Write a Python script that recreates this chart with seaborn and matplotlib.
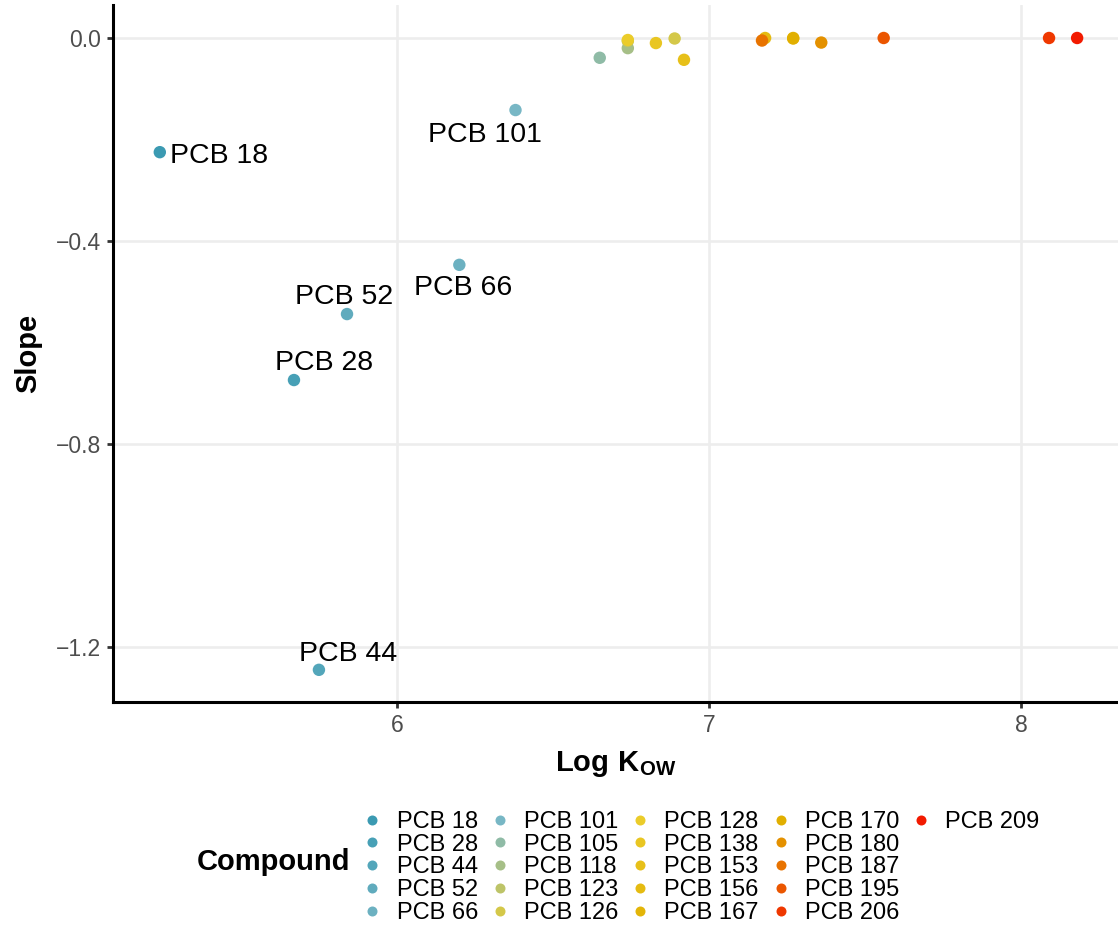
import numpy as np
import pandas as pd
import seaborn as sns
import matplotlib
matplotlib.use("Agg")
import matplotlib.pyplot as plt
from matplotlib.lines import Line2D
from matplotlib.colors import to_rgb, to_hex

# ---------------- data ----------------
compounds = ["PCB 18", "PCB 28", "PCB 44", "PCB 52", "PCB 66",
             "PCB 101", "PCB 105", "PCB 118", "PCB 123", "PCB 126",
             "PCB 128", "PCB 138", "PCB 153", "PCB 156", "PCB 167",
             "PCB 170", "PCB 180", "PCB 187", "PCB 195", "PCB 206", "PCB 209"]
log_kow = [5.24, 5.67, 5.75, 5.84, 6.20,
           6.38, 6.65, 6.74, 6.74, 6.89,
           6.74, 6.83, 6.92, 7.18, 7.27,
           7.27, 7.36, 7.17, 7.56, 8.09, 8.18]
slope = [-0.225, -0.674, -1.245, -0.544, -0.447,
         -0.142, -0.039, -0.020, -0.006, -0.001,
         -0.004, -0.010, -0.043, 0.000, 0.000,
         -0.001, -0.009, -0.005, 0.000, 0.000, 0.000]
labelled = ["PCB 18", "PCB 28", "PCB 44", "PCB 52", "PCB 66", "PCB 101"]
# label offsets (points) and alignment
label_style = {
    "PCB 18": (7, -8, "left"),
    "PCB 101": (-22, -23, "center"),
    "PCB 66": (3, -22, "center"),
    "PCB 52": (-2, 7, "center"),
    "PCB 28": (22, 7, "center"),
    "PCB 44": (21, 6.5, "center"),
}
x_ticks = [6, 7, 8]
y_ticks = [0.0, -0.4, -0.8, -1.2]
y_ticklabels = ["0.0", "\u22120.4", "\u22120.8", "\u22121.2"]

# Zissou1 continuous palette
base_cols = ["#3B9AB2", "#78B7C5", "#EBCC2A", "#E1AF00", "#F21A00"]
n = len(compounds)
base_rgb = np.array([to_rgb(c) for c in base_cols])
pos = np.linspace(0, 1, len(base_cols))
t = np.linspace(0, 1, n)
palette = [to_hex([np.interp(ti, pos, base_rgb[:, k]) for k in range(3)]) for ti in t]

df = pd.DataFrame({"Compound": compounds, "LogKow": log_kow, "Slope": slope})

# ---------------- style ----------------
sns.set_theme(style="white")
plt.rcParams["font.family"] = ["Liberation Sans", "DejaVu Sans"]
plt.rcParams["text.color"] = "black"
plt.rcParams["axes.labelcolor"] = "black"
plt.rcParams["mathtext.fontset"] = "custom"
plt.rcParams["mathtext.rm"] = "Liberation Sans"
plt.rcParams["mathtext.bf"] = "Liberation Sans:bold"

fig = plt.figure(figsize=(11.18, 9.26), dpi=100)
W, H = 1118, 926
ax = fig.add_axes([113 / W, (H - 702) / H, 1 - 113 / W, (702 - 5) / H])

sns.scatterplot(data=df, x="LogKow", y="Slope", hue="Compound",
                hue_order=compounds, palette=palette, s=80,
                edgecolor="none", linewidth=0, legend=False, ax=ax, zorder=3)

for name in labelled:
    i = compounds.index(name)
    dx, dy, ha = label_style[name]
    ax.annotate(name, (log_kow[i], slope[i]), xytext=(dx, dy),
                textcoords="offset points", ha=ha, va="baseline",
                fontsize=20.5, color="black", zorder=4)

ax.set_xlim(5.09, 8.311)
ax.set_ylim(-1.3084, 0.065)
ax.set_xticks(x_ticks)
ax.set_xticklabels([str(v) for v in x_ticks])
ax.set_yticks(y_ticks)
ax.set_yticklabels(y_ticklabels)
ax.grid(True, color="#EDEDED", linewidth=1.9)
ax.set_axisbelow(True)
for side in ["top", "right"]:
    ax.spines[side].set_visible(False)
for side in ["left", "bottom"]:
    ax.spines[side].set_color("black")
    ax.spines[side].set_linewidth(2.2)
ax.tick_params(axis="both", which="major", length=4.5, width=2,
               color="#333333", labelcolor="#4D4D4D", labelsize=16.5,
               bottom=True, left=True, pad=4)

ax.set_xlabel(r"$\mathbf{Log\ K_{OW}}$", fontsize=21, labelpad=9)
ax.set_ylabel("Slope", fontsize=21, fontweight="bold", labelpad=10)

# legend
handles = [Line2D([], [], linestyle="none", marker="o", markersize=7.2,
                  markerfacecolor=c, markeredgecolor="none") for c in palette]
labels = list(compounds)
for _ in range(4):
    handles.append(Line2D([], [], linestyle="none", marker="none"))
    labels.append("")
leg = fig.legend(handles, labels, ncol=5, loc="upper left",
                 bbox_to_anchor=(363 / W, 1 - 811 / H), frameon=False,
                 fontsize=17, handlelength=0.8, handletextpad=0.62,
                 columnspacing=0.53, labelspacing=0.03, borderpad=0,
                 borderaxespad=0, labelcolor="black")
fig.text(197 / W, 1 - 870 / H, "Compound", fontsize=21, fontweight="bold",
         ha="left", va="baseline", color="black")

fig.savefig("out.png", dpi=100)
